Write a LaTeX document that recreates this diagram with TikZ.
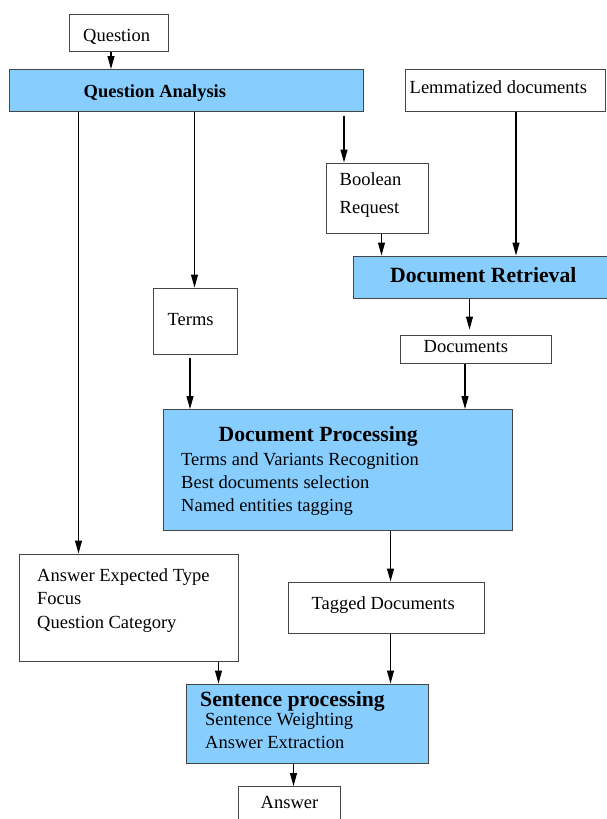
\documentclass[tikz,border=0pt]{standalone}
\usepackage{fontspec}
\setmainfont{Liberation Serif}
\usetikzlibrary{arrows.meta}
\definecolor{procblue}{RGB}{135,206,255}
\definecolor{edgegray}{RGB}{70,70,70}
\newcommand\fsNormal{\fontsize{18.5}{22}\selectfont}
\newcommand\fsBig{\fontsize{21.7}{26}\selectfont\bfseries}
\begin{document}
\begin{tikzpicture}[x=1pt,y=-1pt,
  plainbox/.style={draw=edgegray, line width=1pt, inner sep=0pt, anchor=north west},
  procbox/.style={plainbox, fill=procblue},
  arr/.style={line width=1.1pt, -{Triangle[length=13pt,width=7pt]}},
  txt/.style={inner sep=0pt, anchor=base west, font=\fsNormal},
  ttl/.style={inner sep=0pt, anchor=base west, font=\fsBig},
]
\useasboundingbox (0,0) rectangle (607,819);

% boxes
\node[plainbox, minimum width=99pt, minimum height=37pt] (q) at (68.5,13.5) {};
\node[procbox, minimum width=354pt, minimum height=42pt] (qa) at (8.5,69) {};
\node[plainbox, minimum width=200pt, minimum height=42pt] (lem) at (404.5,69) {};
\node[plainbox, minimum width=102pt, minimum height=70pt] (br) at (325.5,162.5) {};
\node[procbox, minimum width=256pt, minimum height=42pt] (dr) at (353,255.5) {};
\node[plainbox, minimum width=84pt, minimum height=66pt] (terms) at (153,287.5) {};
\node[plainbox, minimum width=151pt, minimum height=28pt] (docs) at (399.5,334.5) {};
\node[procbox, minimum width=349pt, minimum height=121pt] (dp) at (162.5,409) {};
\node[plainbox, minimum width=219pt, minimum height=107pt] (aet) at (18.5,553.5) {};
\node[plainbox, minimum width=196pt, minimum height=51pt] (tag) at (288,581.5) {};
\node[procbox, minimum width=242pt, minimum height=79pt] (sp) at (185.5,683.5) {};
\node[plainbox, minimum width=102pt, minimum height=50pt] (ans) at (237.5,786) {};

% texts
\node[txt] (tq) at (83,41.5) {Question};
\node[inner sep=0pt, anchor=base west, font=\fsNormal\bfseries] (tqa) at (83.5,97) {Question Analysis};
\node[txt] (tlem) at (409.5,93) {Lemmatized documents};
\node[txt] (tbr1) at (339.5,185) {Boolean};
\node[txt] (tbr2) at (339.5,213) {Request};
\node[ttl] (tdr) at (390,282.5) {Document Retrieval};
\node[txt] (tterms) at (167.5,325) {Terms};
\node[txt] (tdocs) at (423.5,352.5) {Documents};
\node[ttl] (tdp) at (218.5,441.5) {Document Processing};
\node[txt] (tdp1) at (181,465) {Terms and Variants Recognition};
\node[txt] (tdp2) at (181,488) {Best documents selection};
\node[txt] (tdp3) at (181,511) {Named entities tagging};
\node[txt] (taet1) at (37,581) {Answer Expected Type};
\node[txt] (taet2) at (37,604) {Focus};
\node[txt] (taet3) at (37,628) {Question Category};
\node[txt] (ttag) at (311.5,609) {Tagged Documents};
\node[ttl] (tsp) at (200,706.5) {Sentence processing};
\node[txt] (tsp1) at (205,725) {Sentence Weighting};
\node[txt] (tsp2) at (205,748.5) {Answer Extraction};
\node[txt] (tans) at (260.5,808.5) {Answer};

% arrow columns
\coordinate (c111) at (111,0);
\coordinate (c78) at (78.5,0);
\coordinate (c194) at (194.5,0);
\coordinate (c381) at (381.5,0);
\coordinate (c516) at (516,0);
\coordinate (c469) at (469.5,0);
\coordinate (c190) at (190,0);
\coordinate (c465) at (465,0);
\coordinate (c390) at (390.5,0);
\coordinate (c218) at (218.5,0);
\coordinate (c293) at (293.5,0);
\coordinate (bstart) at (344,115.5);
\coordinate (tstart) at (190,357.5);

% arrows
\draw[arr] (q.south -| c111) -- (qa.north -| c111);
\draw[arr] (qa.south -| c78) -- (aet.north -| c78);
\draw[arr] (qa.south -| c194) -- (terms.north -| c194);
\draw[arr] (bstart) -- (br.north -| bstart);
\draw[arr] (br.south -| c381) -- (dr.north -| c381);
\draw[arr] (lem.south -| c516) -- (dr.north -| c516);
\draw[arr, shorten >=5pt] (dr.south -| c469) -- (docs.north -| c469);
\draw[arr] (tstart) -- (dp.north -| tstart);
\draw[arr] (docs.south -| c465) -- (dp.north -| c465);
\draw[arr] (dp.south -| c390) -- (tag.north -| c390);
\draw[arr] (tag.south -| c390) -- (sp.north -| c390);
\draw[arr] (aet.south -| c218) -- (sp.north -| c218);
\draw[arr] (sp.south -| c293) -- (ans.north -| c293);
\end{tikzpicture}
\end{document}
